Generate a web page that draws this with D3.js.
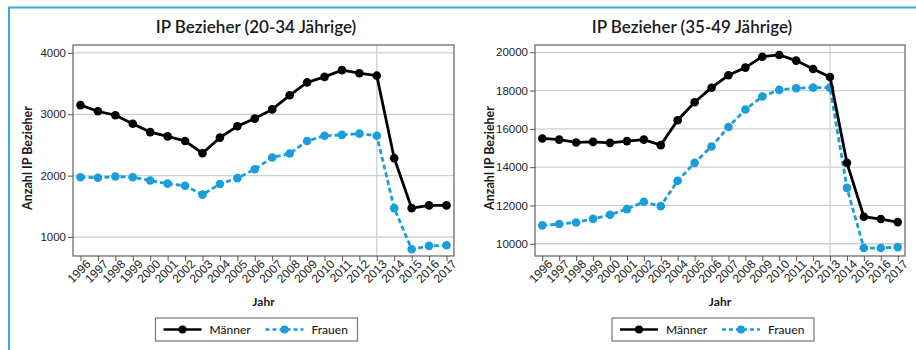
<!DOCTYPE html>
<html>
<head>
<meta charset="utf-8">
<script src="https://cdn.jsdelivr.net/npm/d3@7"></script>
<style>
  body { margin: 0; background: #fff; }
  svg { display: block; font-family: Lato, "Open Sans", sans-serif; }
</style>
</head>
<body>
<svg id="chart" width="916" height="350"></svg>
<script>
const years = d3.range(1996, 2018);

// 20-34 Jährige
const maenner2034 = [3150, 3050, 2985, 2845, 2710, 2640, 2565, 2365, 2620, 2805, 2930,
  3080, 3310, 3520, 3610, 3720, 3670, 3630, 2285, 1470, 1515, 1515];
const frauen2034 = [1975, 1965, 1985, 1975, 1920, 1870, 1835, 1690, 1865, 1960, 2105,
  2295, 2360, 2565, 2650, 2665, 2685, 2650, 1470, 800, 855, 865];
const ticks2034 = [1000, 2000, 3000, 4000];

// 35-49 Jährige
const maenner3549 = [15500, 15440, 15290, 15320, 15270, 15360, 15440, 15150, 16450, 17390, 18150,
  18800, 19200, 19770, 19860, 19565, 19130, 18710, 14225, 11410, 11290, 11130];
const frauen3549 = [10960, 11030, 11110, 11300, 11510, 11810, 12190, 11965, 13290, 14225, 15080,
  16100, 17010, 17690, 18035, 18120, 18155, 18155, 12920, 9775, 9775, 9825];
const ticks3549 = [10000, 12000, 14000, 16000, 18000, 20000];

const seriesNames = ["Männer", "Frauen"];
const markedYear = 2013;

const svg = d3.select("#chart");
const blue = "#1a9ddb";

// frame lines
svg.append("line").attr("x1", 8).attr("x2", 916).attr("y1", 7.5).attr("y2", 7.5)
  .attr("stroke", "#3aa8df").attr("stroke-width", 2);
svg.append("line").attr("x1", 9).attr("x2", 9).attr("y1", 7).attr("y2", 350)
  .attr("stroke", "#3aa8df").attr("stroke-width", 2);

function panel(opts) {
  const { left, right, top, bottom, domain, ticks, men, women, title, titleX } = opts;
  const g = svg.append("g");

  const x = d3.scalePoint().domain(years).range([left, right]).padding(0.43);
  const y = d3.scaleLinear().domain(domain).range([bottom, top]);

  // horizontal gridlines
  g.append("g").selectAll("line").data(ticks).join("line")
    .attr("x1", left).attr("x2", right)
    .attr("y1", d => y(d)).attr("y2", d => y(d))
    .attr("stroke", "#cfcfcf").attr("stroke-width", 1.3);
  // vertical marker gridline
  g.append("line")
    .attr("x1", x(markedYear)).attr("x2", x(markedYear))
    .attr("y1", top).attr("y2", bottom)
    .attr("stroke", "#cfcfcf").attr("stroke-width", 1.3);

  // plot border
  g.append("rect").attr("x", left).attr("y", top)
    .attr("width", right - left).attr("height", bottom - top)
    .attr("fill", "none").attr("stroke", "#6e6e6e").attr("stroke-width", 1.3);

  // axes
  const yAxis = g.append("g").attr("transform", `translate(${left},0)`)
    .call(d3.axisLeft(y).tickValues(ticks).tickSize(5).tickPadding(2).tickFormat(d3.format("d")));
  yAxis.select(".domain").remove();
  yAxis.selectAll("line").attr("stroke", "#555");
  yAxis.selectAll("text").attr("font-size", 11.5).attr("fill", "#222");

  const xAxis = g.append("g").attr("transform", `translate(0,${bottom})`)
    .call(d3.axisBottom(x).tickSize(5).tickPadding(2));
  xAxis.select(".domain").remove();
  xAxis.selectAll("line").attr("stroke", "#555");
  xAxis.selectAll("text")
    .attr("font-size", 12).attr("fill", "#222")
    .attr("text-anchor", "end")
    .attr("dx", "0.1em").attr("dy", "0.55em")
    .attr("transform", "rotate(-45)");

  // title & axis labels
  g.append("text").attr("x", titleX).attr("y", 33)
    .attr("text-anchor", "middle").attr("font-size", 17).attr("font-weight", 600)
    .attr("fill", "#1a1a1a").text(title);
  g.append("text")
    .attr("transform", `translate(${left - 41},158) rotate(-90)`)
    .attr("text-anchor", "middle").attr("font-size", 12.5).attr("font-weight", 700)
    .attr("fill", "#1a1a1a").text("Anzahl IP Bezieher");
  g.append("text").attr("x", (left + right) / 2).attr("y", 306)
    .attr("text-anchor", "middle").attr("font-size", 12).attr("font-weight", 700)
    .attr("fill", "#1a1a1a").text("Jahr");

  // series
  const line = d3.line().x((d, i) => x(years[i])).y(d => y(d));
  g.append("path").datum(women).attr("d", line).attr("fill", "none")
    .attr("stroke", blue).attr("stroke-width", 2.8).attr("stroke-dasharray", "5,3");
  g.append("g").selectAll("circle").data(women).join("circle")
    .attr("cx", (d, i) => x(years[i])).attr("cy", d => y(d)).attr("r", 4.3).attr("fill", blue);
  g.append("path").datum(men).attr("d", line).attr("fill", "none")
    .attr("stroke", "#000").attr("stroke-width", 2.8);
  g.append("g").selectAll("circle").data(men).join("circle")
    .attr("cx", (d, i) => x(years[i])).attr("cy", d => y(d)).attr("r", 4.3).attr("fill", "#000");

  // legend
  const lx = (left + right) / 2 - 108, ly = 318;
  const lg = g.append("g").attr("transform", `translate(${lx},${ly})`);
  lg.append("rect").attr("x", 0).attr("y", 0).attr("width", 202).attr("height", 23)
    .attr("fill", "#fff").attr("stroke", "#777").attr("stroke-width", 1.2);
  const items = [
    { name: seriesNames[0], color: "#000", dash: null, x0: 8 },
    { name: seriesNames[1], color: blue, dash: "4,3", x0: 110 }
  ];
  items.forEach(it => {
    lg.append("line").attr("x1", it.x0).attr("x2", it.x0 + 38)
      .attr("y1", 11.5).attr("y2", 11.5)
      .attr("stroke", it.color).attr("stroke-width", 2.6)
      .attr("stroke-dasharray", it.dash);
    lg.append("circle").attr("cx", it.x0 + 19).attr("cy", 11.5).attr("r", 4).attr("fill", it.color);
    lg.append("text").attr("x", it.x0 + 46).attr("y", 16)
      .attr("font-size", 12).attr("font-weight", 500).attr("fill", "#1a1a1a").text(it.name);
  });
}

panel({
  left: 73, right: 454, top: 45, bottom: 256,
  domain: [690, 4130], ticks: ticks2034,
  men: maenner2034, women: frauen2034,
  title: "IP Bezieher (20-34 Jährige)", titleX: 256
});

panel({
  left: 535, right: 905, top: 45, bottom: 256,
  domain: [9360, 20380], ticks: ticks3549,
  men: maenner3549, women: frauen3549,
  title: "IP Bezieher (35-49 Jährige)", titleX: 692
});
</script>
</body>
</html>
